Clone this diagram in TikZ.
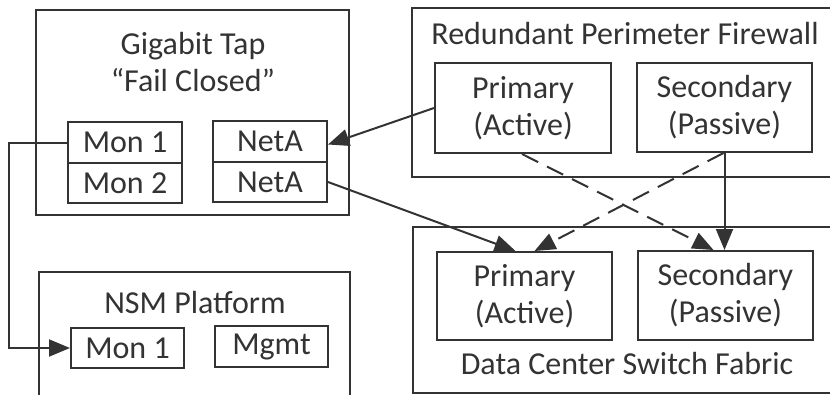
\documentclass[tikz,border=0pt]{standalone}
\usepackage{fontspec}
\setmainfont{Carlito}
\usetikzlibrary{arrows.meta,calc}
\definecolor{ink}{HTML}{333333}
\begin{document}
\begin{tikzpicture}[x=1pt,y=-1pt,
  every node/.style={font=\fontsize{32}{37}\selectfont, text=ink},
  outer/.style={draw=ink, line width=2.2pt, inner sep=0pt},
  box/.style={draw=ink, line width=2pt, inner sep=0pt, align=center},
  lbl/.style={inner sep=0pt, align=center},
  conn/.style={draw=ink, line width=2pt},
  tip/.style={-{Triangle[length=21pt,width=17pt]}},
  dashline/.style={dash pattern=on 18pt off 10pt}
]
\useasboundingbox (0,0) rectangle (830,394);
\clip (0,0) rectangle (830,394);
% outer boxes
\node[outer, minimum width=313pt, minimum height=205pt] (tap) at (192.5,112.5) {};
\node[outer, minimum width=428pt, minimum height=169pt] (fw) at (626,92.5) {};
\node[outer, minimum width=427pt, minimum height=166pt] (dc) at (626.5,310) {};
\node[outer, minimum width=311pt, minimum height=138pt] (nsm) at (194.5,341) {};
% titles
\node[lbl] (taptitle) at (193,62) {Gigabit Tap\\“Fail Closed”};
\node[lbl] (fwtitle) at (625,34) {Redundant Perimeter Firewall};
\node[lbl] (dctitle) at (627,364) {Data Center Switch Fabric};
\node[lbl] (nsmtitle) at (195,303) {NSM Platform};
% tap ports
\node[box, minimum width=114pt, minimum height=41pt] (tmon1) at (125,142.5) {Mon 1};
\node[box, minimum width=114pt, minimum height=40pt] (tmon2) at (125,183) {Mon 2};
\node[box, minimum width=114pt, minimum height=41pt] (neta1) at (270,141.5) {NetA};
\node[box, minimum width=114pt, minimum height=40pt] (neta2) at (270,182) {NetA};
% firewall units
\node[box, minimum width=176pt, minimum height=90pt] (fwp) at (523,108) {Primary\\(Active)};
\node[box, minimum width=175pt, minimum height=89pt] (fws) at (724.5,107.5) {Secondary\\(Passive)};
% switch units
\node[box, minimum width=175pt, minimum height=88pt] (dcp) at (524.5,296) {Primary\\(Active)};
\node[box, minimum width=175pt, minimum height=89pt] (dcs) at (725.5,295.5) {Secondary\\(Passive)};
% nsm ports
\node[box, minimum width=113pt, minimum height=40pt] (nmon1) at (127.5,348) {Mon 1};
\node[box, minimum width=113pt, minimum height=41pt] (mgmt) at (271.5,346.5) {Mgmt};
% connectors
\coordinate (corner) at (9,142.5);
\draw[conn, tip] (tmon1.west) -- (corner) |- (nmon1.west);
\draw[conn, tip] (fwp.west) -- ([yshift=-3pt]neta1.east);
\draw[conn, tip] (neta2.east) -- ([xshift=-9pt]dcp.north);
\draw[conn, tip, dashline] ([xshift=-1pt]fwp.south) -- ([xshift=-12pt]dcs.north);
\draw[conn, tip, dashline] ([xshift=-1pt]fws.south) -- ([xshift=10pt]dcp.north);
\draw[conn, tip] (fws.south) -- (fws.south |- dcs.north);
\end{tikzpicture}
\end{document}
